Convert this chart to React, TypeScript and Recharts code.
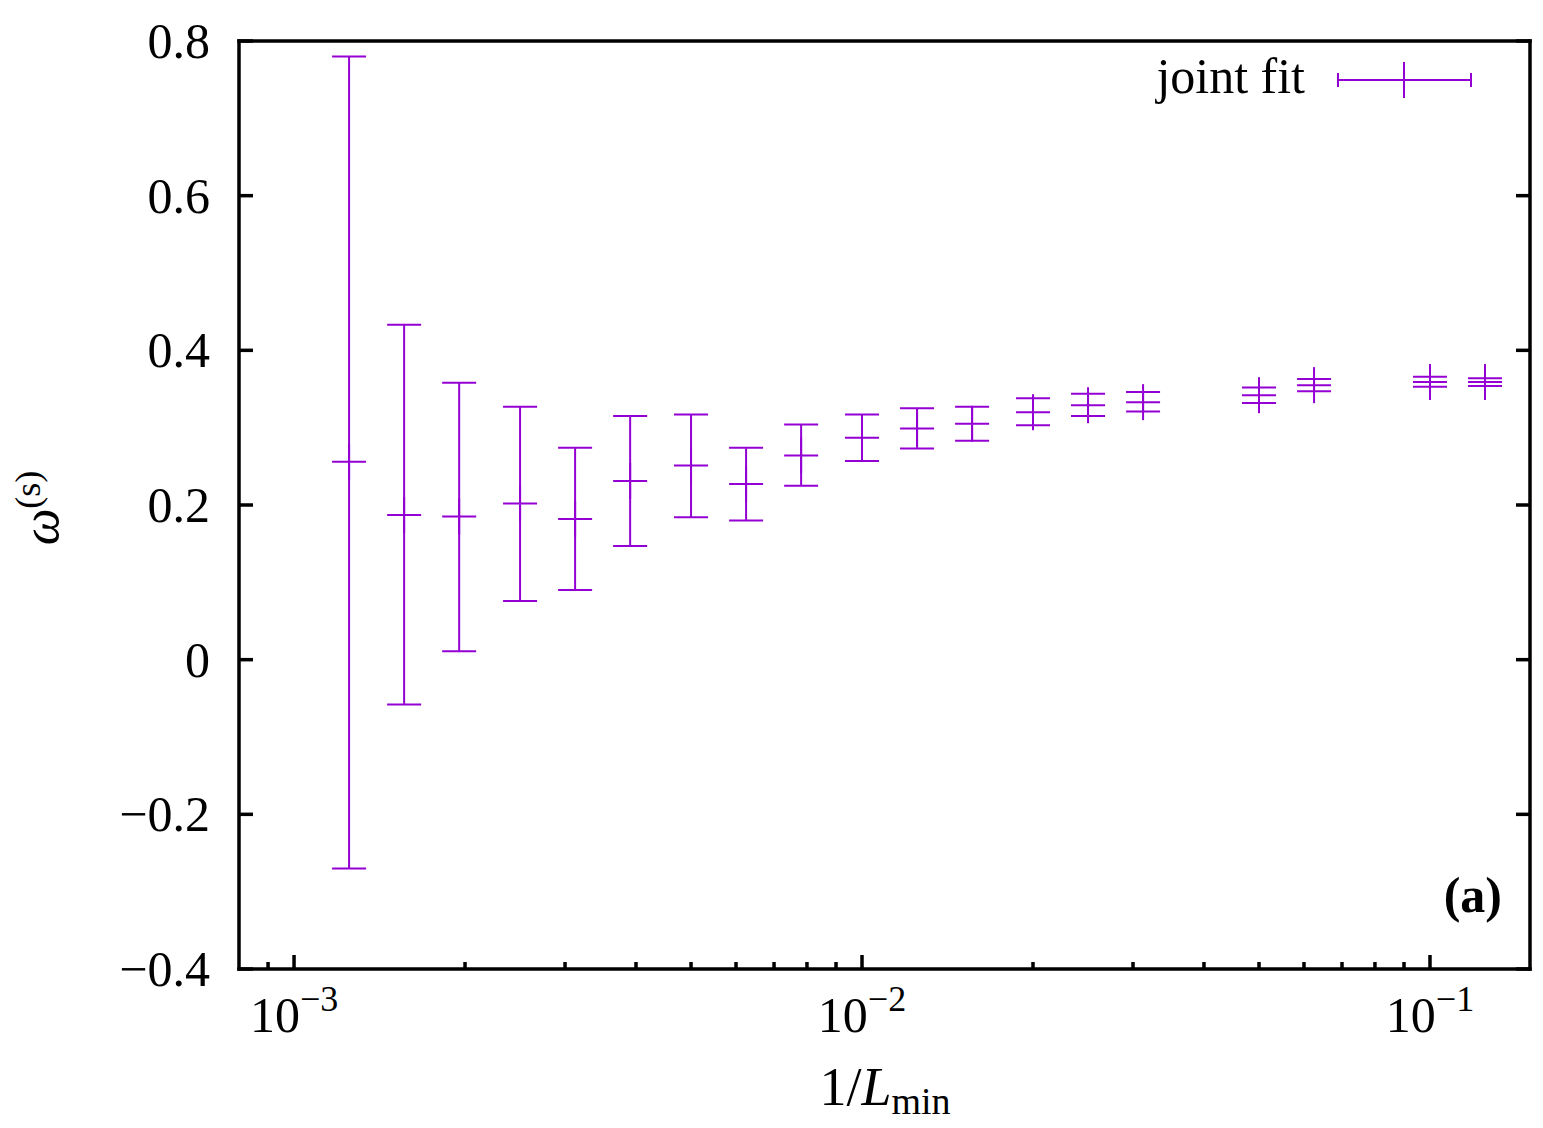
import React from 'react'
import { ScatterChart, Scatter, XAxis, YAxis, ErrorBar } from 'recharts'

const W = 1543
const H = 1128
const FONT = '"Liberation Serif", "Times New Roman", serif'
const PURPLE = '#9400d3'

// L_min of each fit window, plotted as 1/L_min
const lMin = [800, 640, 512, 400, 320, 256, 200, 160, 128, 100, 80, 64, 50, 40, 32, 20, 16, 10, 8]
const omegaS = [0.256, 0.187, 0.185, 0.202, 0.182, 0.231, 0.251, 0.227, 0.264, 0.287, 0.299, 0.305, 0.320, 0.329, 0.333, 0.342, 0.355, 0.359, 0.359]
const barTop = [0.780, 0.433, 0.358, 0.327, 0.274, 0.315, 0.317, 0.274, 0.304, 0.317, 0.325, 0.327, 0.338, 0.344, 0.346, 0.352, 0.363, 0.366, 0.364]
const barBottom = [-0.270, -0.058, 0.011, 0.076, 0.090, 0.147, 0.184, 0.180, 0.225, 0.257, 0.273, 0.283, 0.303, 0.315, 0.321, 0.332, 0.347, 0.353, 0.354]

const xMajor = [0.001, 0.01, 0.1]
const xMinor = [
  0.0009,
  0.002, 0.003, 0.004, 0.005, 0.006, 0.007, 0.008, 0.009,
  0.02, 0.03, 0.04, 0.05, 0.06, 0.07, 0.08, 0.09,
]
const yTicks = [-0.4, -0.2, 0, 0.2, 0.4, 0.6, 0.8]

const data = lMin.map((L, i) => ({
  x: 1 / L,
  y: omegaS[i],
  err: [omegaS[i] - barBottom[i], barTop[i] - omegaS[i]],
}))

const xTicks = [...xMinor, ...xMajor].sort((a, b) => a - b)
const isMajor = (v: number) => xMajor.some((m) => Math.abs(m - v) < 1e-9)

const fmtY = (v: number) => {
  if (v === 0) return '0'
  const s = Math.abs(v).toFixed(1)
  return v < 0 ? '\u2212' + s : s
}

// eslint-disable-next-line @typescript-eslint/no-explicit-any
function BottomTick({ x, y, payload }: any) {
  const major = isMajor(payload.value)
  const exp = Math.round(Math.log10(payload.value))
  return (
    <g>
      <line x1={x} x2={x} y1={y} y2={y - (major ? 14 : 7)} stroke="#000" strokeWidth={3.5} />
      {major && (
        <text x={x} y={y + 63} textAnchor="middle" fontFamily={FONT} fontSize={50} fill="#000">
          10
          <tspan dy={-21} fontSize={36}>{'\u2212' + Math.abs(exp)}</tspan>
        </text>
      )}
    </g>
  )
}

// eslint-disable-next-line @typescript-eslint/no-explicit-any
function TopTick({ x, y, payload }: any) {
  const major = isMajor(payload.value)
  return <line x1={x} x2={x} y1={y} y2={y + (major ? 14 : 7)} stroke="#000" strokeWidth={3.5} />
}

// eslint-disable-next-line @typescript-eslint/no-explicit-any
function LeftTick({ x, y, payload }: any) {
  return (
    <g>
      <line x1={x} x2={x + 14} y1={y} y2={y} stroke="#000" strokeWidth={3.5} />
      <text x={x - 29} y={y + 17} textAnchor="end" fontFamily={FONT} fontSize={50} fill="#000">
        {fmtY(payload.value)}
      </text>
    </g>
  )
}

// eslint-disable-next-line @typescript-eslint/no-explicit-any
function RightTick({ x, y }: any) {
  return <line x1={x} x2={x - 14} y1={y} y2={y} stroke="#000" strokeWidth={3.5} />
}

// eslint-disable-next-line @typescript-eslint/no-explicit-any
function Cross(props: any) {
  const { cx, cy } = props
  return (
    <g>
      <line x1={cx - 17} x2={cx + 17} y1={cy} y2={cy} stroke={PURPLE} strokeWidth={2} />
      <line x1={cx} x2={cx} y1={cy - 18} y2={cy + 18} stroke={PURPLE} strokeWidth={2} />
    </g>
  )
}

const frame = { stroke: '#000', strokeWidth: 3.5, strokeLinecap: 'square' as const }

export default function App() {
  return (
    <div style={{ position: 'absolute', left: 0, top: 0, width: W, height: H, background: '#fff' }}>
      <ScatterChart width={W} height={H} margin={{ top: 31, right: 3, bottom: 99, left: 159 }}>
        <XAxis
          dataKey="x"
          type="number"
          scale="log"
          domain={[0.0008, 0.15]}
          allowDataOverflow
          ticks={xTicks}
          interval={0}
          height={60}
          tickSize={0}
          tickMargin={0}
          tickLine={false}
          axisLine={frame}
          tick={<BottomTick />}
        />
        <XAxis
          xAxisId="top"
          orientation="top"
          type="number"
          scale="log"
          domain={[0.0008, 0.15]}
          allowDataOverflow
          ticks={xTicks}
          interval={0}
          height={10}
          tickSize={0}
          tickMargin={0}
          tickLine={false}
          axisLine={frame}
          tick={<TopTick />}
        />
        <YAxis
          dataKey="y"
          type="number"
          domain={[-0.4, 0.8]}
          allowDataOverflow
          ticks={yTicks}
          interval={0}
          width={80}
          tickSize={0}
          tickMargin={0}
          tickLine={false}
          axisLine={frame}
          tick={<LeftTick />}
        />
        <YAxis
          yAxisId="right"
          orientation="right"
          type="number"
          domain={[-0.4, 0.8]}
          allowDataOverflow
          ticks={yTicks}
          interval={0}
          width={10}
          tickSize={0}
          tickMargin={0}
          tickLine={false}
          axisLine={frame}
          tick={<RightTick />}
        />
        <Scatter data={data} shape={<Cross />} isAnimationActive={false}>
          <ErrorBar
            dataKey="err"
            direction="y"
            width={17}
            stroke={PURPLE}
            strokeWidth={2}
            isAnimationActive={false}
          />
        </Scatter>
      </ScatterChart>
      <svg
        width={W}
        height={H}
        style={{ position: 'absolute', left: 0, top: 0, pointerEvents: 'none' }}
        fontFamily={FONT}
      >
        {/* legend */}
        <text x={1305} y={93} textAnchor="end" fontSize={50} fill="#000">joint fit</text>
        <g stroke={PURPLE} strokeWidth={2}>
          <line x1={1338} x2={1471} y1={80} y2={80} />
          <line x1={1338} x2={1338} y1={73} y2={87} />
          <line x1={1471} x2={1471} y1={73} y2={87} />
          <line x1={1404} x2={1404} y1={62} y2={98} />
        </g>
        {/* axis titles */}
        <text x={885} y={1105} textAnchor="middle" fontSize={54} fill="#000">
          1/<tspan fontStyle="italic">L</tspan>
          <tspan dy={9} fontSize={38}>min</tspan>
        </text>
        <text x={58} y={508} transform="rotate(-90 58 508)" textAnchor="middle" fontSize={52} fill="#000">
          <tspan fontStyle="italic">ω</tspan>
          <tspan dy={-18} fontSize={36}>(s)</tspan>
        </text>
        <text x={1502} y={912} textAnchor="end" fontSize={50} fontWeight="bold" fill="#000">(a)</text>
      </svg>
    </div>
  )
}
